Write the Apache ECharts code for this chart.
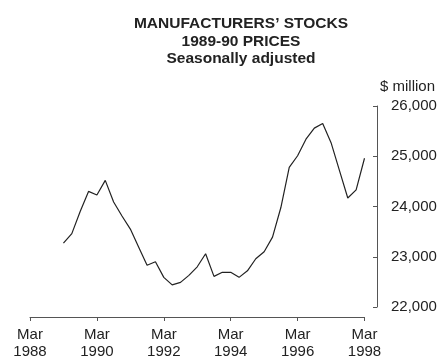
<!DOCTYPE html>
<html>
<head>
<meta charset="utf-8">
<script src="https://cdn.jsdelivr.net/npm/echarts@6/dist/echarts.min.js"></script>
<style>
  html, body { margin: 0; padding: 0; background: #fff; }
  #chart { width: 442px; height: 360px; }
</style>
</head>
<body>
<div id="chart"></div>
<script>
  // quarterly, seasonally adjusted, Mar 1989 .. Mar 1998 ($ million)
  const firstYear = 1989;
  const stocks = [
    23270, 23460, 23900, 24300, 24230, 24520, 24090, 23810, 23550, 23190,
    22830, 22900, 22590, 22440, 22490, 22630, 22800, 23060, 22610, 22690,
    22690, 22590, 22720, 22960, 23100, 23390, 23980, 24780, 25010, 25340,
    25560, 25650, 25270, 24720, 24170, 24330, 24960
  ];
  const titleLines = ['MANUFACTURERS\u2019 STOCKS', '1989-90 PRICES', 'Seasonally adjusted'];
  const yTicks = [22000, 23000, 24000, 25000, 26000];

  const FONT = 'Liberation Sans, Arial, Helvetica, sans-serif';
  const AXIS = '#555';

  const chart = echarts.init(document.getElementById('chart'), null, { renderer: 'canvas' });

  chart.setOption({
    animation: false,
    backgroundColor: '#fff',
    graphic: [
      { type: 'text', silent: true, x: 241, y: 15,
        style: { text: titleLines.join('\n'), textAlign: 'center', fontFamily: FONT,
          fontSize: 15.5, fontWeight: 'bold', lineHeight: 17.5, fill: '#222' } },
      { type: 'text', silent: true, x: 380, y: 79,
        style: { text: '$ million', fontFamily: FONT, fontSize: 15, fill: '#222' } }
    ],
    grid: { left: 30, right: 77.5, top: 106, bottom: 49 },
    xAxis: {
      type: 'value', min: 1988, max: 1998, interval: 2,
      offset: 10,
      axisLine: { show: true, onZero: false, lineStyle: { color: AXIS, width: 1 } },
      axisTick: { show: true, length: 4, lineStyle: { color: AXIS } },
      splitLine: { show: false },
      axisLabel: {
        margin: 9, fontFamily: FONT, fontSize: 15, color: '#222', lineHeight: 17,
        formatter: function (v) { return 'Mar\n' + v; }
      }
    },
    yAxis: {
      type: 'value', position: 'right', offset: 12.5,
      min: yTicks[0], max: yTicks[yTicks.length - 1], interval: 1000,
      axisLine: { show: true, lineStyle: { color: AXIS, width: 1 } },
      axisTick: { show: true, inside: true, length: 4, lineStyle: { color: AXIS } },
      splitLine: { show: false },
      axisLabel: {
        margin: 14, fontFamily: FONT, fontSize: 15, color: '#222',
        formatter: function (v) { return v.toLocaleString('en-US'); }
      }
    },
    series: [{
      type: 'line',
      data: stocks.map(function (v, i) { return [firstYear + i / 4, v]; }),
      showSymbol: false,
      lineStyle: { color: '#222', width: 1.2 }
    }]
  });
</script>
</body>
</html>
